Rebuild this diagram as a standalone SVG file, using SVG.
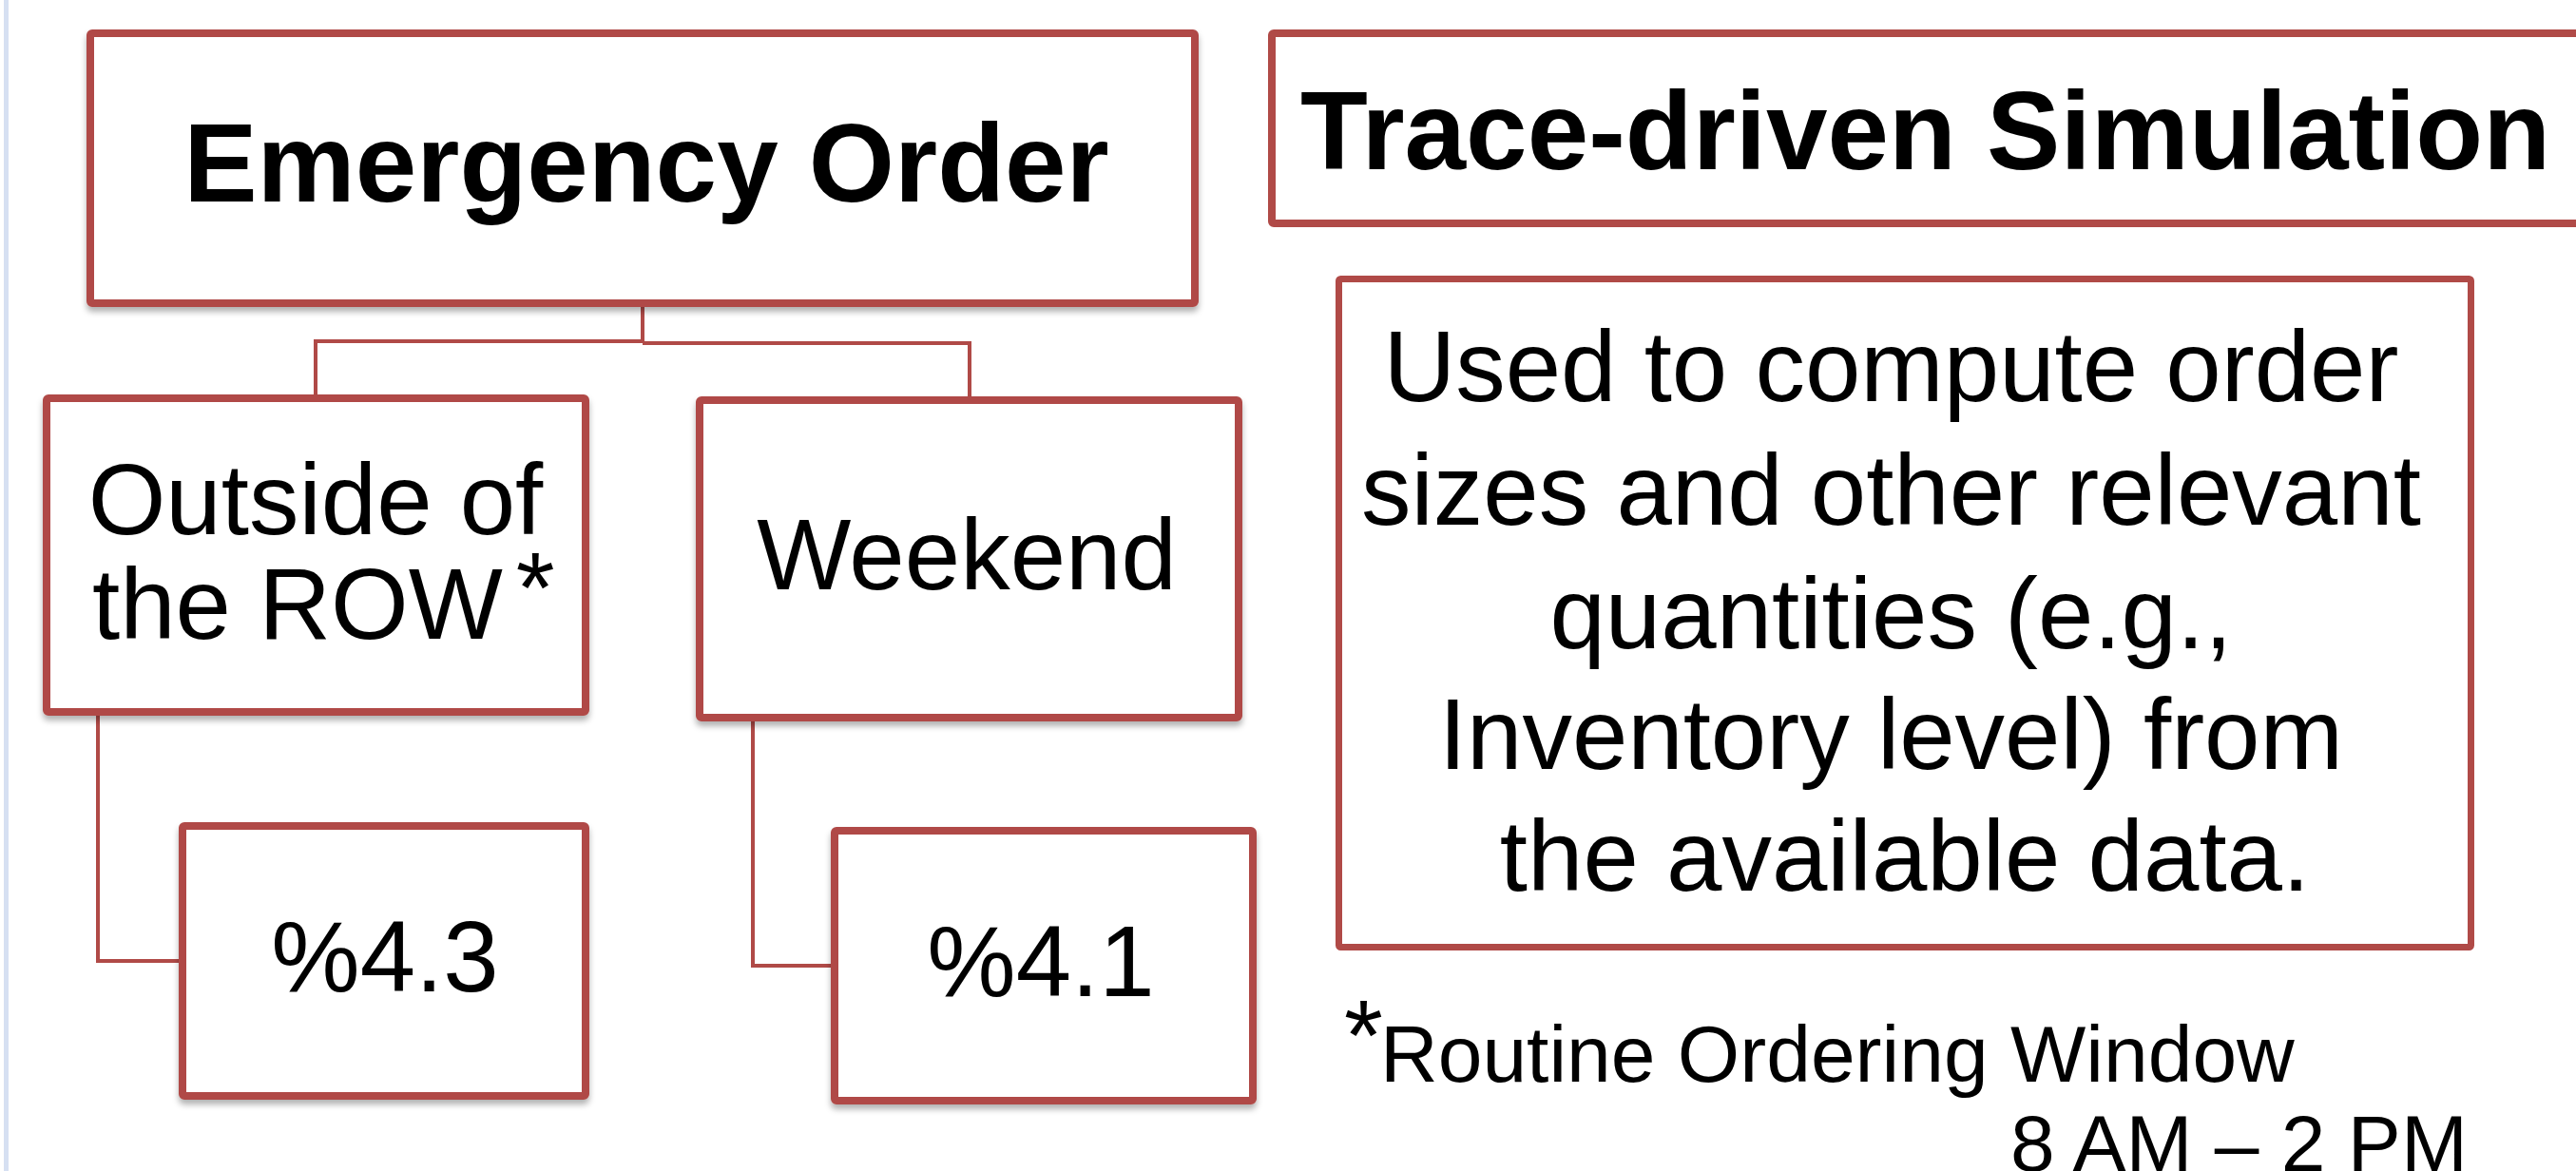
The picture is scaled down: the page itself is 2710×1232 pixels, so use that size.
<svg xmlns="http://www.w3.org/2000/svg" width="2710" height="1232" viewBox="0 0 2710 1232">
  <style>
    .box { fill: #ffffff; stroke: #b04a47; stroke-width: 8; }
    .thin { stroke-width: 7; }
    .link { fill: none; stroke: #b04a47; stroke-width: 4; }
    .t { font-family: "Liberation Sans", Arial, sans-serif; fill: #000000; font-size: 105px; }
    .b { font-weight: bold; font-size: 116px; }
    .note { font-size: 84px; }
  </style>
  <defs>
    <filter id="shadow" x="-5%" y="-5%" width="110%" height="120%">
      <feDropShadow dx="0" dy="5" stdDeviation="3" flood-color="#000000" flood-opacity="0.3"/>
    </filter>
  </defs>

  <rect width="2710" height="1232" fill="#ffffff"/>
  <!-- slide edge -->
  <rect x="4" y="0" width="5" height="1232" fill="#d6e0f2"/>

  <!-- connectors -->
  <g id="connectors">
    <path class="link" d="M676,323 V360"/>
    <path class="link" d="M676,359 H332 V415"/>
    <path class="link" d="M676,361 H1020 V417"/>
    <path class="link" d="M103,753 V1011 H188"/>
    <path class="link" d="M792,759 V1016 H874"/>
  </g>

  <g id="emergency-order">
    <rect class="box" x="95" y="35" width="1162" height="284" rx="2" filter="url(#shadow)"/>
    <text class="t b" x="680" y="212" text-anchor="middle">Emergency Order</text>
  </g>

  <g id="outside-row">
    <rect class="box" x="49" y="419" width="567" height="330" rx="2" filter="url(#shadow)"/>
    <text class="t" x="332" y="562" text-anchor="middle">Outside of</text>
    <text class="t" x="97" y="672">the ROW<tspan dx="14" dy="-17">*</tspan></text>
  </g>

  <g id="weekend">
    <rect class="box" x="736" y="421" width="567" height="334" rx="2" filter="url(#shadow)"/>
    <text class="t" x="1017" y="620" text-anchor="middle">Weekend</text>
  </g>

  <g id="pct-row">
    <rect class="box" x="192" y="869" width="424" height="284" rx="2" filter="url(#shadow)"/>
    <text class="t" x="405" y="1043" text-anchor="middle">%4.3</text>
  </g>

  <g id="pct-weekend">
    <rect class="box" x="878" y="874" width="440" height="284" rx="2" filter="url(#shadow)"/>
    <text class="t" x="1095" y="1048" text-anchor="middle">%4.1</text>
  </g>

  <g id="trace-title">
    <rect class="box" x="1338" y="35" width="1420" height="200" rx="2"/>
    <text class="t b" x="1368" y="178">Trace-driven Simulation</text>
  </g>

  <g id="description">
    <rect class="box thin" x="1408.5" y="293.5" width="1191" height="703" rx="2"/>
    <text class="t" text-anchor="middle">
      <tspan x="2004" y="422">Used to compute order</tspan>
      <tspan x="2004" y="552">sizes and other relevant</tspan>
      <tspan x="2004" y="682">quantities (e.g.,</tspan>
      <tspan x="2004" y="809">Inventory level) from</tspan>
      <tspan x="2004" y="937">the available data.</tspan>
    </text>
  </g>

  <g id="footnote">
    <text class="t" x="1414" y="1126" font-size="72">*</text>
    <text class="t note" x="1452" y="1138">Routine Ordering Window</text>
    <text class="t note" x="2115" y="1232">8 AM – 2 PM</text>
  </g>
</svg>
